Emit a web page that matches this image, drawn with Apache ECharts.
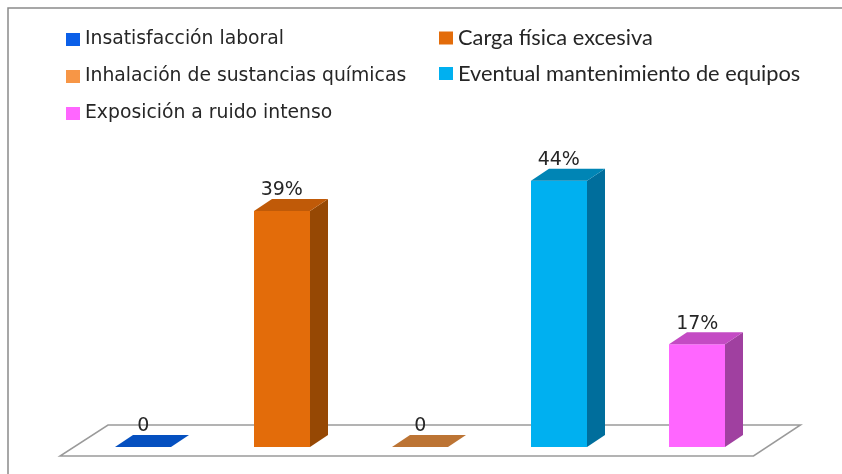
<!DOCTYPE html>
<html>
<head>
<meta charset="utf-8">
<style>html,body{margin:0;padding:0;background:#fff}#c{width:842px;height:474px}</style>
<script src="https://cdn.jsdelivr.net/npm/echarts@6/dist/echarts.min.js"></script>
</head>
<body>
<div id="c"></div>
<script>
const categories = ['Insatisfacción laboral','Carga física excesiva','Inhalación de sustancias químicas','Eventual mantenimiento de equipos','Exposición a ruido intenso'];
const values = [0, 39, 0, 44, 17];
const labels = ['0','39%','0','44%','17%'];
const frontColors = ['#0B5FE8','#E36C0A','#F79646','#00B0F0','#FF66FF'];
const topColors = ['#0550C0','#C05A08','#BC7434','#0085B5','#C44BC4'];
const sideColors = ['#043F99','#964804','#96602A','#006E9C','#A040A0'];
const leftColumn = [categories[0], categories[2], categories[4]];
const rightColumn = [categories[1], categories[3]];

const DX = 18, DY = -12, BAR = 56;

function renderFloor(params, api) {
  const c = params.coordSys;
  const base = c.y + c.height;
  return {
    type: 'polygon',
    silent: true,
    shape: { points: [
      [c.x - 14, base + 9], [c.x + c.width - 13, base + 9],
      [c.x + c.width + 34, base - 22], [c.x + 34, base - 22]
    ]},
    style: { fill: '#fff', stroke: '#9a9a9a', lineWidth: 1.5 }
  };
}

function makeRender(idx) {
  return function (params, api) {
    const p = api.coord([api.value(0), api.value(1)]);
    const b = api.coord([api.value(0), 0]);
    const l = Math.round(p[0] - BAR / 2), r = l + BAR, t = p[1], y0 = b[1];
    const children = [];
    if (y0 - t > 0.5) {
      children.push({ type: 'polygon', shape: { points: [[l, t], [r, t], [r, y0], [l, y0]] }, style: { fill: frontColors[idx] } });
      children.push({ type: 'polygon', shape: { points: [[r, t], [r + DX, t + DY], [r + DX, y0 + DY], [r, y0]] }, style: { fill: sideColors[idx] } });
    }
    children.push({ type: 'polygon', shape: { points: [[l, t], [r, t], [r + DX, t + DY], [l + DX, t + DY]] }, style: { fill: topColors[idx] } });
    children.push({ type: 'text', style: { text: labels[idx], x: p[0], y: t - 20.5, align: 'center', verticalAlign: 'middle', font: '19px "DejaVu Sans"', fill: '#262626' } });
    return { type: 'group', children };
  };
}

const legendBase = { orient: 'vertical', itemWidth: 14, itemHeight: 13, icon: 'rect', selectedMode: false, padding: 0 };

const series = [{
  type: 'custom', name: 'floor', coordinateSystem: 'cartesian2d', renderItem: renderFloor, data: [[0, 0]], silent: true, z: 1
}].concat(categories.map((name, i) => ({
  type: 'custom', name, coordinateSystem: 'cartesian2d', renderItem: makeRender(i),
  itemStyle: { color: frontColors[i] }, encode: { x: 0, y: 1 }, data: [[i, values[i]]], z: 2
})));

const chart = echarts.init(document.getElementById('c'), null, { renderer: 'canvas' });
chart.setOption({
  animation: false,
  backgroundColor: '#fff',
  grid: { left: 74, width: 692.5, top: 144.5, height: 302.5 },
  xAxis: { type: 'category', data: categories, show: false },
  yAxis: { type: 'value', min: 0, max: 50, show: false },
  legend: [
    Object.assign({}, legendBase, { left: 66, top: 28, itemGap: 14, data: leftColumn,
      textStyle: { fontFamily: 'DejaVu Sans', fontSize: 18.8, lineHeight: 20, color: '#262626', padding: [3,0,0,0] } }),
    Object.assign({}, legendBase, { left: 439, top: 27, itemGap: 13.5, data: rightColumn,
      textStyle: { fontFamily: 'Lato', fontSize: 21.8, lineHeight: 20, color: '#262626' } })
  ],
  graphic: [
    { type: 'polyline', silent: true, shape: { points: [[8, 474], [8, 8], [842, 8]] }, style: { fill: null, stroke: '#8a8a8a', lineWidth: 1.5 } }
  ],
  series
});
</script>
</body>
</html>
